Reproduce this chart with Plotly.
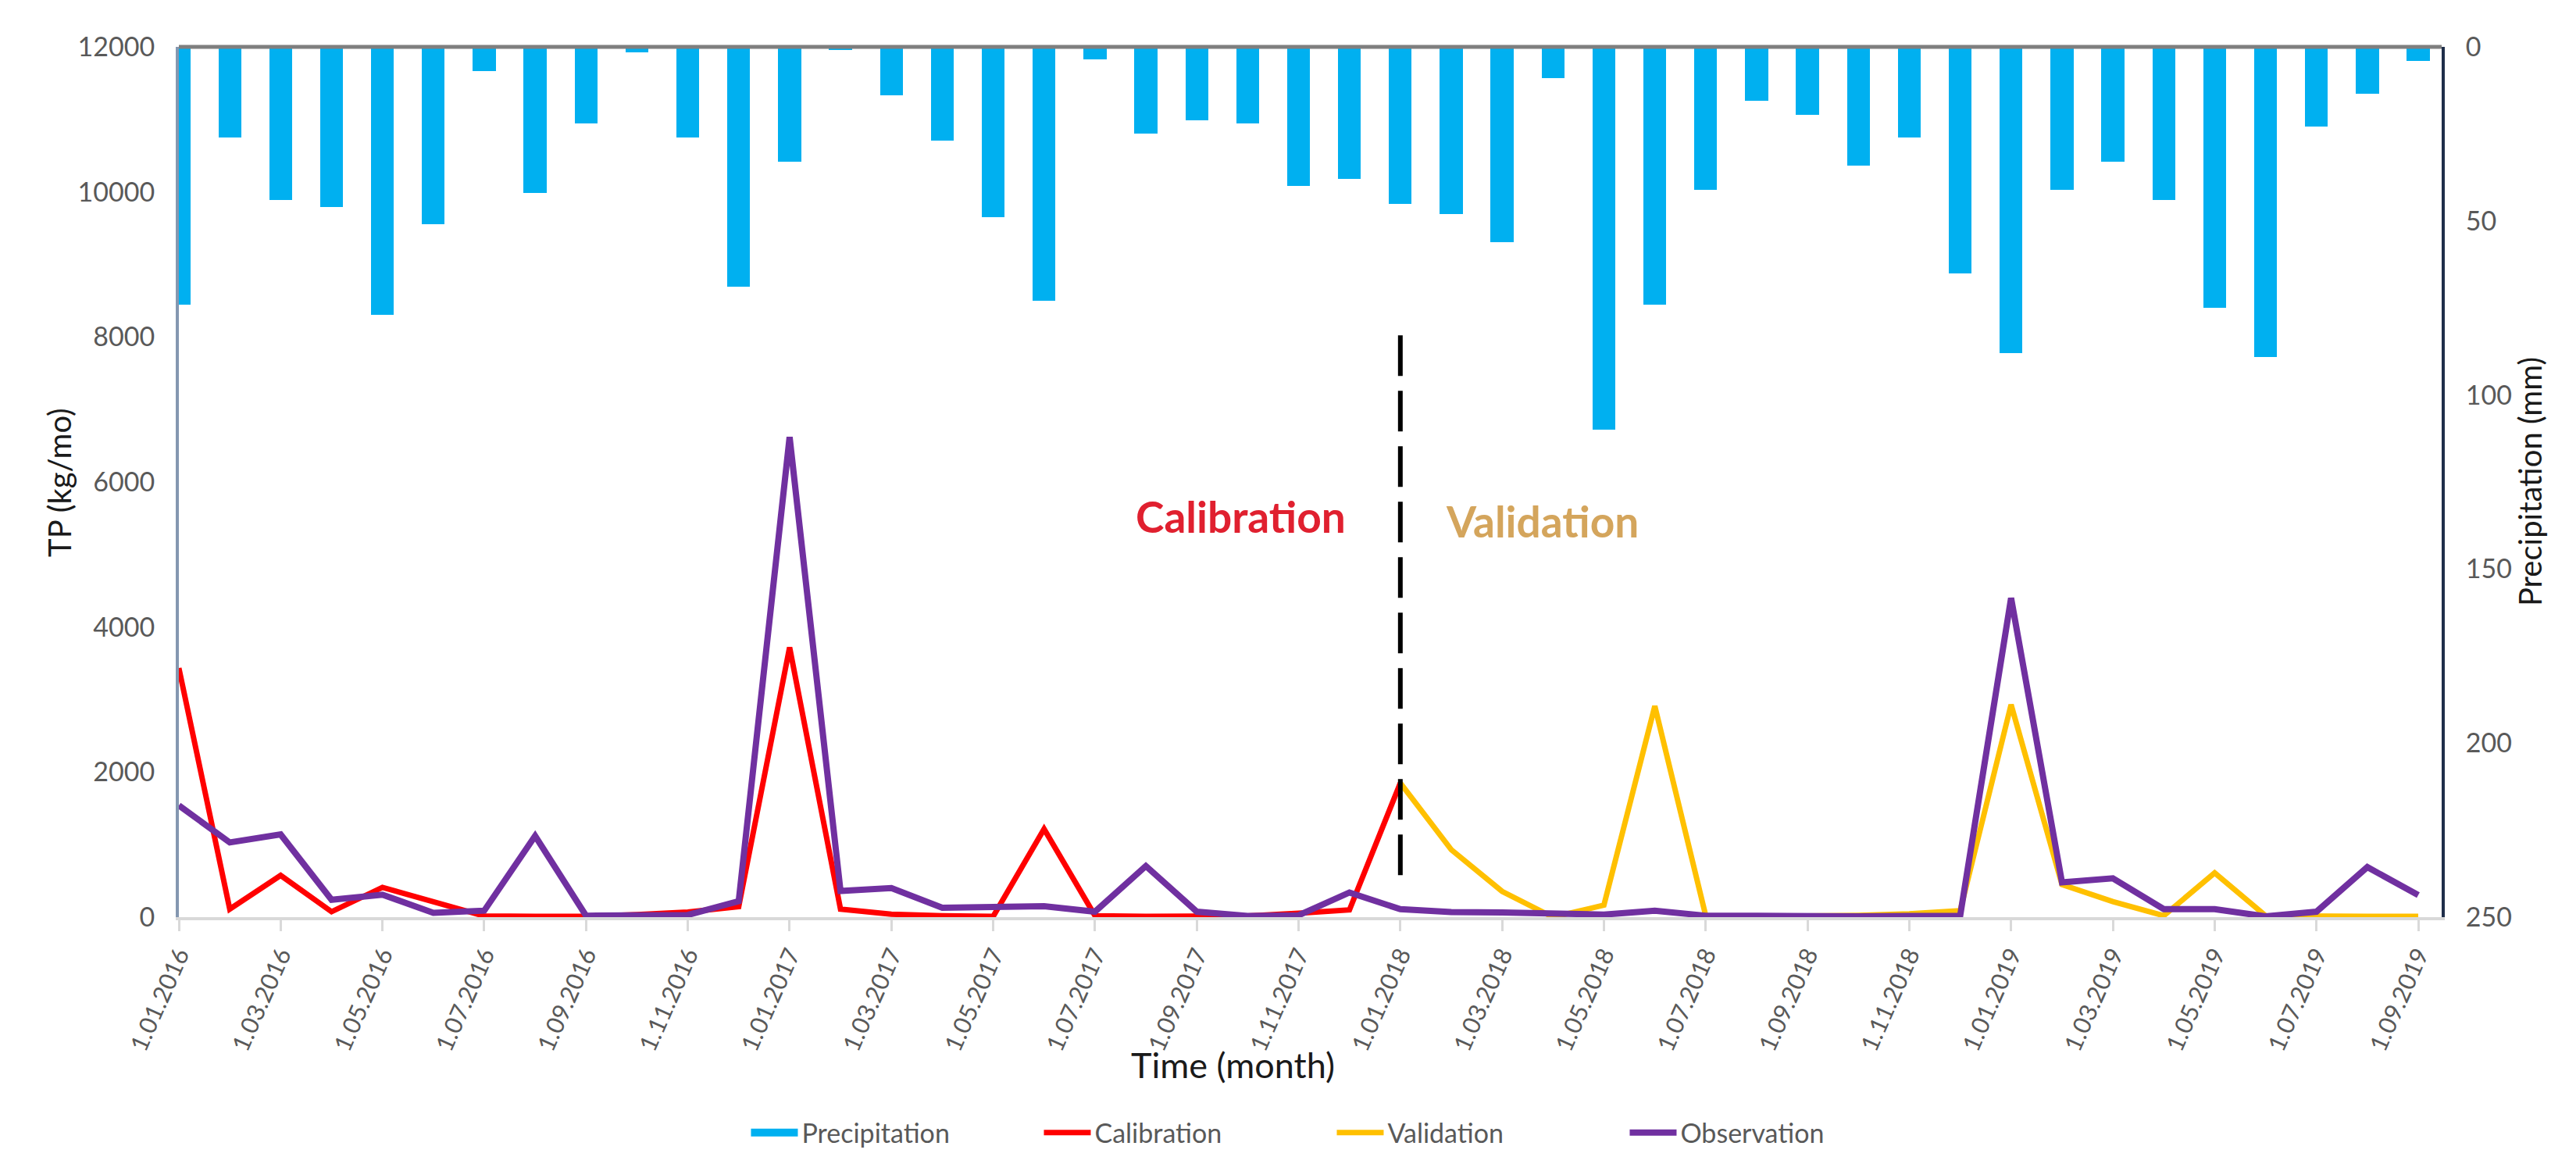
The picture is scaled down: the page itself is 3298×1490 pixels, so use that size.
import plotly.graph_objects as go

months = ["1.01.2016", "1.02.2016", "1.03.2016", "1.04.2016", "1.05.2016", "1.06.2016",
          "1.07.2016", "1.08.2016", "1.09.2016", "1.10.2016", "1.11.2016", "1.12.2016",
          "1.01.2017", "1.02.2017", "1.03.2017", "1.04.2017", "1.05.2017", "1.06.2017",
          "1.07.2017", "1.08.2017", "1.09.2017", "1.10.2017", "1.11.2017", "1.12.2017",
          "1.01.2018", "1.02.2018", "1.03.2018", "1.04.2018", "1.05.2018", "1.06.2018",
          "1.07.2018", "1.08.2018", "1.09.2018", "1.10.2018", "1.11.2018", "1.12.2018",
          "1.01.2019", "1.02.2019", "1.03.2019", "1.04.2019", "1.05.2019", "1.06.2019",
          "1.07.2019", "1.08.2019", "1.09.2019"]

precipitation = [74, 26, 44, 46, 77, 51, 7, 42, 22, 1.5, 26, 69,
                 33, 1, 14, 27, 49, 73, 3.5, 25, 21, 22, 40, 38,
                 45, 48, 56, 9, 110, 74, 41, 15.5, 19.5, 34, 26, 65,
                 88, 41, 33, 44, 75, 89, 23, 13.5, 4]

observation = [1540, 1030, 1140, 240, 310, 60, 90, 1120, 20, 20, 30, 220,
               6620, 360, 400, 130, 130, 150, 75, 705, 75, 15, 25, 340,
               110, 70, 65, 60, 35, 90, 20, 20, 10, 10, 15, 20,
               4400, 480, 535, 110, 110, 10, 75, 690, 305]

calibration = [3435, 110, 575, 75, 410, 215, 15, 10, 10, 35, 70, 145,
               3720, 110, 40, 20, 10, 1215, 20, 10, 10, 15, 55, 100, 1850]

validation = [1850, 930, 355, 0, 165, 2910, 20, 15, 15, 25, 45, 90,
              2930, 450, 215, 20, 610, 20, 10, 10, 10]

split_index = 24            # 1.01.2018: calibration / validation boundary
split_line_y = [580, 8155]  # extent of dashed divider in TP units

x_all = list(range(len(months)))
x_cal = x_all[:len(calibration)]
x_val = x_all[split_index:split_index + len(validation)]

tick_idx = x_all[::2]
tick_txt = [months[i] for i in tick_idx]

FONT = "Lato"
GREY = "#595959"
BLUE = "#00B0F0"

fig = go.Figure()
# legend-only swatch for precipitation (wide rectangle like the original legend key)
fig.add_trace(go.Scatter(x=[None], y=[None], name="Precipitation", mode="lines",
                         line=dict(color=BLUE, width=24), legendgroup="p"))
fig.add_trace(go.Bar(x=x_all, y=precipitation, name="Precipitation", yaxis="y2",
                     marker=dict(color=BLUE, line=dict(width=0)), width=0.45,
                     legendgroup="p", showlegend=False))
fig.add_trace(go.Scatter(x=x_cal, y=calibration, name="Calibration", mode="lines",
                         line=dict(color="#FF0000", width=7)))
fig.add_trace(go.Scatter(x=x_val, y=validation, name="Validation", mode="lines",
                         line=dict(color="#FFC000", width=7)))
fig.add_trace(go.Scatter(x=x_all, y=observation, name="Observation", mode="lines",
                         line=dict(color="#7030A0", width=8)))

fig.add_shape(type="line", xref="x", yref="y", x0=split_index, x1=split_index,
              y0=split_line_y[0], y1=split_line_y[1],
              line=dict(color="black", width=6, dash="52px,19px"))
# top border line
fig.add_shape(type="line", xref="paper", yref="paper", x0=0, x1=1, y0=1, y1=1,
              line=dict(color="#7F7F7F", width=5))

fig.update_layout(
    width=3298, height=1490,
    margin=dict(l=221, r=180, t=52, b=324),
    paper_bgcolor="white", plot_bgcolor="white",
    font=dict(family=FONT, size=34, color=GREY),
    bargap=0,
    xaxis=dict(range=[0, 44.46], tickmode="array", tickvals=tick_idx, ticktext=tick_txt,
               tickangle=-66, tickfont=dict(size=31, color=GREY),
               showgrid=False, zeroline=False, showline=True, linecolor="#D9D9D9", linewidth=4,
               ticks="outside", ticklen=14, tickwidth=3, tickcolor="#D9D9D9"),
    yaxis=dict(range=[0, 12000], tickvals=[0, 2000, 4000, 6000, 8000, 10000, 12000],
               tickformat="d",
               tickfont=dict(size=34, color=GREY), showgrid=False, zeroline=False,
               showline=True, linecolor="#8497B0", linewidth=4, ticks="", ticklabelstandoff=20),
    yaxis2=dict(range=[250, 0], overlaying="y", side="right",
                tickvals=[0, 50, 100, 150, 200, 250], tickformat="d",
                tickfont=dict(size=34, color=GREY), showgrid=False, zeroline=False,
                showline=True, linecolor="#1F2E4A", linewidth=4, ticks="", ticklabelstandoff=20),
    legend=dict(orientation="h", x=0.51, xanchor="center", y=-0.248, yanchor="middle",
                font=dict(size=34, color=GREY), itemwidth=60, traceorder="normal",
                entrywidth=300, entrywidthmode="pixels"),
    showlegend=True,
    annotations=[
        dict(text="Calibration", x=20.86, y=5526, xref="x", yref="y", showarrow=False,
             font=dict(family=FONT, size=55, color="#E0202F", weight="bold")),
        dict(text="Validation", x=26.79, y=5462, xref="x", yref="y", showarrow=False,
             font=dict(family=FONT, size=55, color="#D4A55C", weight="bold")),
        dict(text="Time (month)", x=0.4657, y=-0.196, xref="paper", yref="paper",
             showarrow=False, font=dict(family=FONT, size=45, color="#1A1A1A")),
        dict(text="TP (kg/mo)", x=-0.0618, y=0.5, xref="paper", yref="paper", textangle=-90,
             showarrow=False, font=dict(family=FONT, size=40, color="#1A1A1A")),
        dict(text="Precipitation (mm)", x=1.048, y=0.5, xref="paper", yref="paper", textangle=-90,
             showarrow=False, font=dict(family=FONT, size=40, color="#1A1A1A")),
    ],
)

fig.write_html("out.html")
